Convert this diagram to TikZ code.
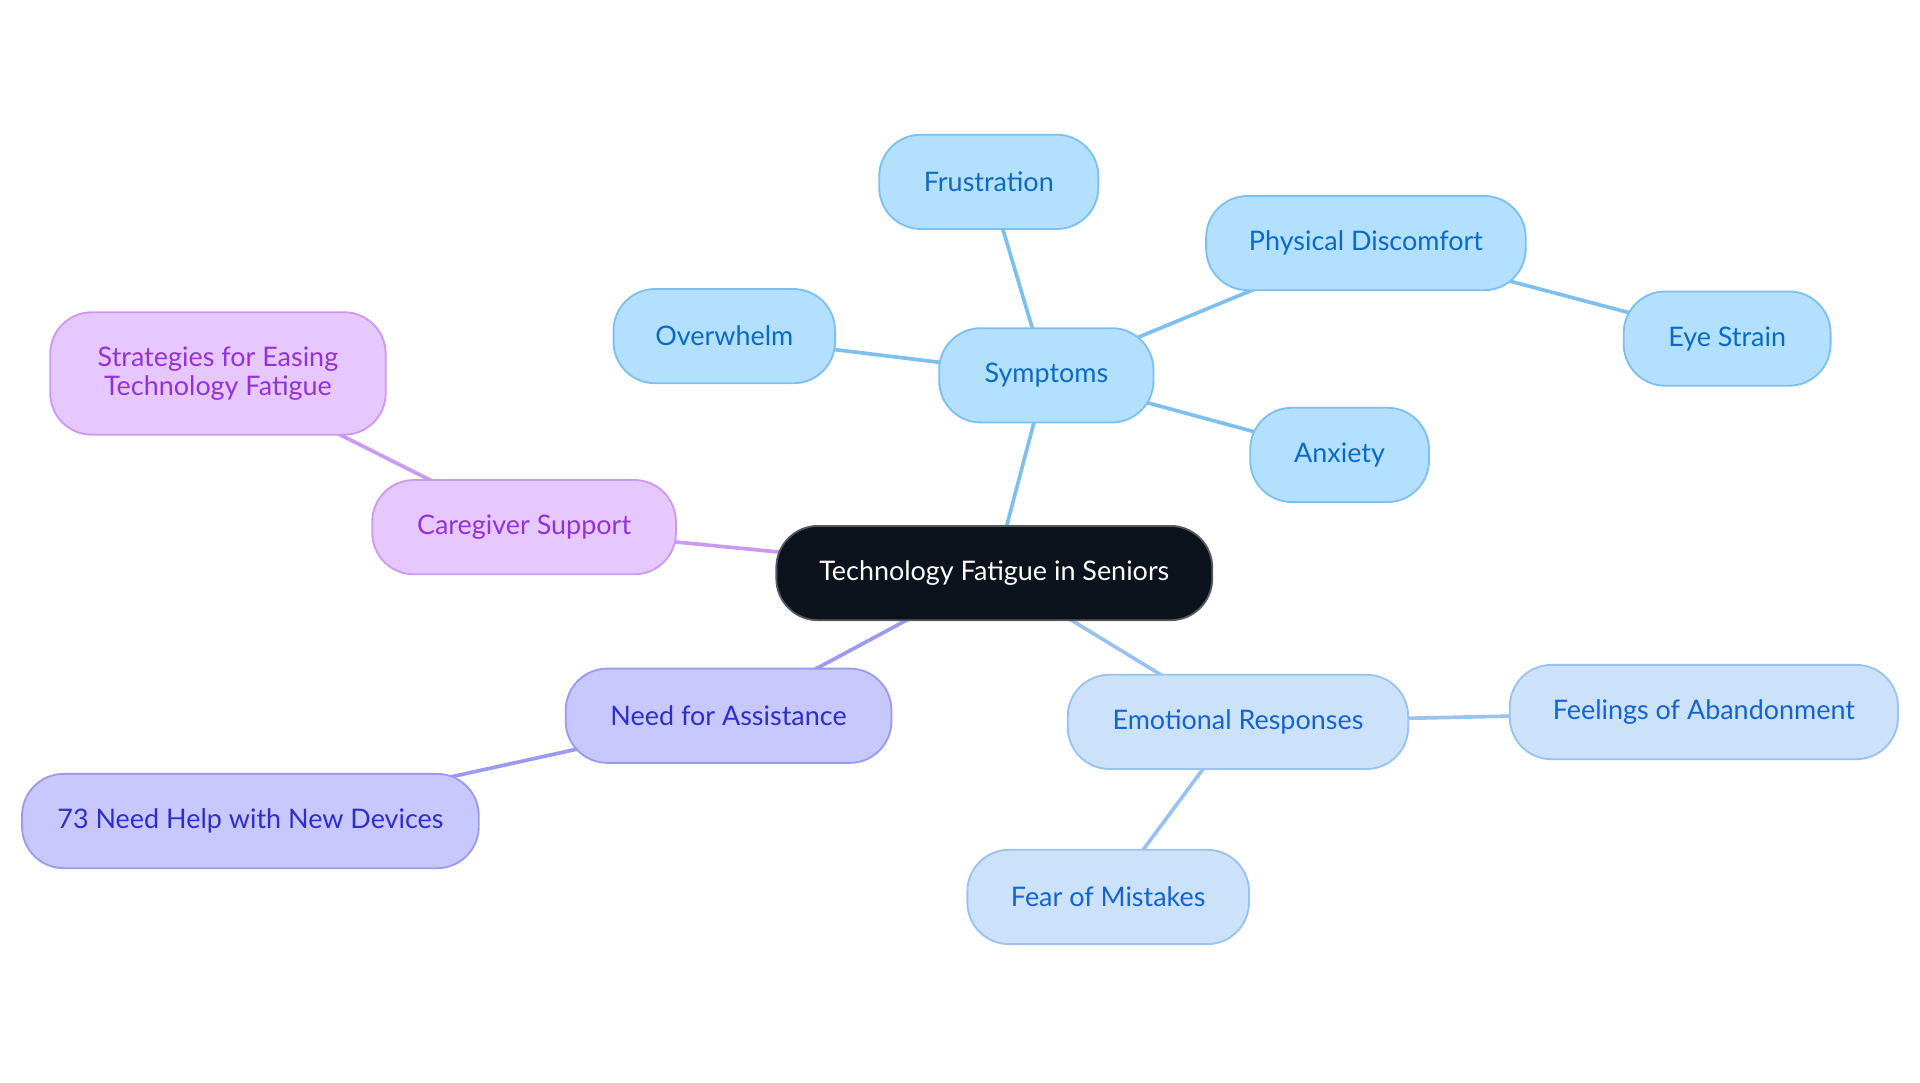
\documentclass[tikz,border=0pt]{standalone}
\usepackage{fontspec}
\setmainfont{Lato}
\usetikzlibrary{backgrounds}
\definecolor{symF}{HTML}{B3E0FE}
\definecolor{symD}{HTML}{7DC0F0}
\definecolor{symT}{HTML}{0B6BC4}
\definecolor{emoF}{HTML}{CCE2FA}
\definecolor{emoD}{HTML}{98C2F0}
\definecolor{emoT}{HTML}{1463CF}
\definecolor{asF}{HTML}{C8C8FE}
\definecolor{asD}{HTML}{9A9AF0}
\definecolor{asT}{HTML}{2E2EC8}
\definecolor{cgF}{HTML}{E7C8FE}
\definecolor{cgD}{HTML}{CC99F2}
\definecolor{cgT}{HTML}{9233D6}
\definecolor{rootF}{HTML}{0D131C}
\tikzset{
  mm/.style={rectangle, rounded corners=34pt, line width=1.5pt, align=center,
    font=\fontsize{22pt}{23.5pt}\selectfont, inner sep=0pt, minimum height=77pt},
  sym/.style={mm, fill=symF, draw=symD, text=symT},
  emo/.style={mm, fill=emoF, draw=emoD, text=emoT},
  asn/.style={mm, fill=asF, draw=asD, text=asT},
  cgv/.style={mm, fill=cgF, draw=cgD, text=cgT},
  rootn/.style={mm, fill=rootF, draw=rootF!70!white, text=white},
  link/.style={line width=3pt},
}
\begin{document}
\begin{tikzpicture}[x=1pt,y=-1pt]
\useasboundingbox (0,0) rectangle (1568,884.4);
\node[rootn, minimum width=356pt] (root) at (812,468) {Technology Fatigue in Seniors};
\node[sym, minimum width=175pt] (symp) at (854.5,306.5) {Symptoms};
\node[sym, minimum width=179pt] (frus) at (807.5,148.5) {Frustration};
\node[sym, minimum width=261pt] (phys) at (1115.5,198.5) {Physical Discomfort};
\node[sym, minimum width=169pt] (eye) at (1410.5,276.5) {Eye Strain};
\node[sym, minimum width=181pt] (over) at (591.5,274.5) {Overwhelm};
\node[sym, minimum width=146pt] (anx) at (1094,371.5) {Anxiety};
\node[cgv, minimum width=248pt] (care) at (428,430.5) {Caregiver Support};
\node[cgv, minimum width=274pt, minimum height=100pt] (strat) at (178,305) {Strategies for Easing\\Technology Fatigue};
\node[asn, minimum width=266pt] (need) at (595,584.5) {Need for Assistance};
\node[asn, minimum width=373pt] (help) at (204.5,670.5) {73 Need Help with New Devices};
\node[emo, minimum width=278pt] (emot) at (1011,589.5) {Emotional Responses};
\node[emo, minimum width=317pt] (aban) at (1391.5,581.5) {Feelings of Abandonment};
\node[emo, minimum width=230pt] (fear) at (905,732.5) {Fear of Mistakes};
\begin{scope}[on background layer]
\draw[link, symD] (root.center) -- (symp.center);
\draw[link, symD] (symp.center) -- (frus.center);
\draw[link, symD] (symp.center) -- (phys.center);
\draw[link, symD] (phys.center) -- (eye.center);
\draw[link, symD] (symp.center) -- (over.center);
\draw[link, symD] (symp.center) -- (anx.center);
\draw[link, cgD] (root.center) -- (care.center);
\draw[link, cgD] (care.center) -- (strat.center);
\draw[link, asD] (root.center) -- (need.center);
\draw[link, asD] (need.center) -- (help.center);
\draw[link, emoD] (root.center) -- (emot.center);
\draw[link, emoD] (emot.center) -- (aban.center);
\draw[link, emoD] (emot.center) -- (fear.center);
\end{scope}
\end{tikzpicture}
\end{document}
